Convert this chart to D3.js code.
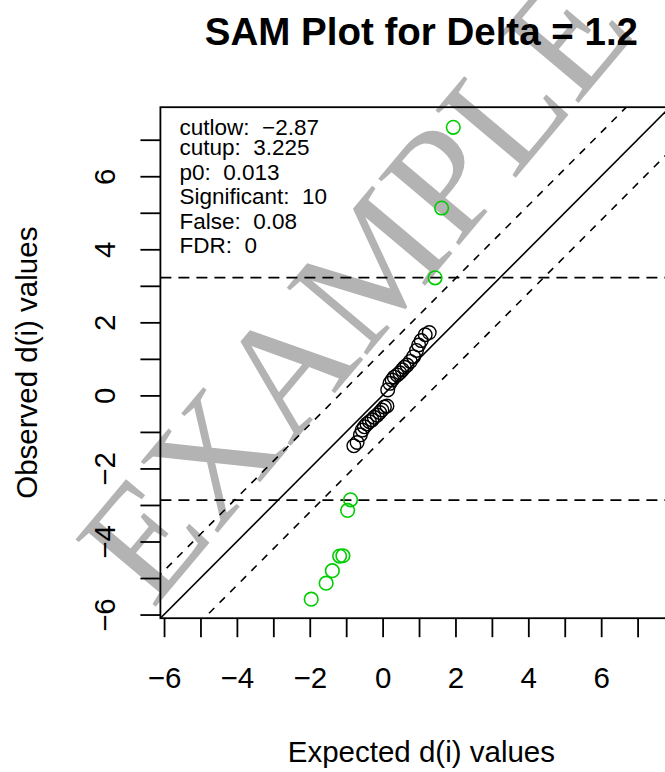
<!DOCTYPE html>
<html>
<head>
<meta charset="utf-8">
<script src="https://cdn.jsdelivr.net/npm/d3@7"></script>
<style>
  html, body { margin: 0; padding: 0; background: #fff; }
  svg { display: block; }
  text { font-family: "Liberation Sans", Arial, Helvetica, sans-serif; }
</style>
</head>
<body>
<svg id="chart" width="665" height="772"></svg>
<script>
// ---------------- data ----------------
const title = "SAM Plot for Delta = 1.2";
const xLabel = "Expected d(i) values";
const yLabel = "Observed d(i) values";
const delta = 1.2;
const cutlow = -2.87;
const cutup = 3.225;

// non-significant genes (black)
const nsExpected = [-0.79, -0.70, -0.61, -0.56, -0.50, -0.43, -0.36, -0.29, -0.23, -0.15, -0.08, -0.02, 0.05, 0.12,
                    0.14, 0.20, 0.26, 0.32, 0.40, 0.47, 0.54, 0.60, 0.67, 0.76, 0.85, 0.93, 0.99, 1.06, 1.17, 1.28];
const nsObserved = [-1.38, -1.29, -1.08, -0.95, -0.86, -0.78, -0.72, -0.67, -0.60, -0.54, -0.47, -0.40, -0.32, -0.29,
                    0.15, 0.33, 0.42, 0.50, 0.56, 0.62, 0.70, 0.77, 0.83, 0.93, 1.06, 1.23, 1.38, 1.50, 1.66, 1.72];
// significant genes (green)
const sigExpected = [1.94, 1.62, 1.44, -0.88, -0.96, -1.18, -1.09, -1.38, -1.55, -1.96];
const sigObserved = [7.34, 5.13, 3.22, -2.86, -3.15, -4.40, -4.39, -4.80, -5.14, -5.58];

const xTicks = [-6, -5, -4, -3, -2, -1, 0, 1, 2, 3, 4, 5, 6, 7, 8];
const yTicks = [-6, -5, -4, -3, -2, -1, 0, 1, 2, 3, 4, 5, 6, 7];
const xLabelled = [-6, -4, -2, 0, 2, 4, 6];
const yLabelled = [-6, -4, -2, 0, 2, 4, 6];

const statNames = ["cutlow", "cutup", "p0", "Significant", "False", "FDR"];
const statValues = ["\u22122.87", "3.225", "0.013", "10", "0.08", "0"];

const xDomain = [-6.1, 8.23];
const yDomain = [-6.1, 7.89];

// ---------------- layout ----------------
const plot = { left: 160.4, right: 682.4, top: 107.2, bottom: 618.2 };
const svg = d3.select("#chart");

const x = d3.scaleLinear().domain(xDomain).range([plot.left, plot.right]);
const y = d3.scaleLinear().domain(yDomain).range([plot.bottom, plot.top]);

const fmt = d => (d < 0 ? "\u2212" + Math.abs(d) : String(d));

// watermark (behind everything)
svg.append("text")
  .attr("transform", "translate(355,287) rotate(-50)")
  .attr("text-anchor", "middle")
  .attr("dy", "0.33em")
  .style("font-family", "'Liberation Serif', 'DejaVu Serif', serif")
  .style("font-size", "160px")
  .attr("fill", "#b3b3b3")
  .text("EXAMPLE");

// clip
svg.append("defs").append("clipPath").attr("id", "clip")
  .append("rect")
  .attr("x", plot.left).attr("y", plot.top)
  .attr("width", plot.right - plot.left).attr("height", plot.bottom - plot.top);

const g = svg.append("g").attr("clip-path", "url(#clip)");

// diagonal lines
const lines = [
  { b: 0, dash: null },
  { b: delta, dash: "7.5,7.5" },
  { b: -delta, dash: "7.5,7.5" }
];
lines.forEach(l => {
  g.append("line")
    .attr("x1", x(-10)).attr("y1", y(-10 + l.b))
    .attr("x2", x(10)).attr("y2", y(10 + l.b))
    .attr("stroke", "#000").attr("stroke-width", 1.6)
    .attr("stroke-dasharray", l.dash);
});
// horizontal cut lines
[cutlow, cutup].forEach(c => {
  g.append("line")
    .attr("x1", plot.left).attr("x2", plot.right)
    .attr("y1", y(c)).attr("y2", y(c))
    .attr("stroke", "#000").attr("stroke-width", 1.8)
    .attr("stroke-dasharray", "11,7");
});

// points
svg.append("g").selectAll("circle.ns")
  .data(nsExpected.map((e, i) => [e, nsObserved[i]]))
  .join("circle")
  .attr("cx", d => x(d[0])).attr("cy", d => y(d[1])).attr("r", 6.8)
  .attr("fill", "none").attr("stroke", "#000").attr("stroke-width", 1.4);

svg.append("g").selectAll("circle.sig")
  .data(sigExpected.map((e, i) => [e, sigObserved[i]]))
  .join("circle")
  .attr("cx", d => x(d[0])).attr("cy", d => y(d[1])).attr("r", 6.8)
  .attr("fill", "none").attr("stroke", "#00CD00").attr("stroke-width", 1.6);

// box
svg.append("rect")
  .attr("x", plot.left).attr("y", plot.top)
  .attr("width", plot.right - plot.left).attr("height", plot.bottom - plot.top)
  .attr("fill", "none").attr("stroke", "#000").attr("stroke-width", 1.8);

// axes
const xAxis = d3.axisBottom(x).tickValues(xTicks).tickSize(19).tickPadding(30)
  .tickFormat(d => xLabelled.includes(d) ? fmt(d) : "");
const gx = svg.append("g").attr("transform", `translate(0,${plot.bottom})`).call(xAxis);
gx.select(".domain").remove();
gx.selectAll(".tick line").attr("stroke-width", 1.8);
gx.selectAll(".tick text").style("font-size", "29.5px").attr("fill", "#000");

const yAxis = d3.axisLeft(y).tickValues(yTicks).tickSize(20)
  .tickFormat(d => yLabelled.includes(d) ? fmt(d) : "");
const gy = svg.append("g").attr("transform", `translate(${plot.left},0)`).call(yAxis);
gy.select(".domain").remove();
gy.selectAll(".tick line").attr("stroke-width", 1.8);
gy.selectAll(".tick text")
  .attr("x", null).attr("dy", null)
  .attr("text-anchor", "middle")
  .attr("transform", "translate(-45,0) rotate(-90)")
  .style("font-size", "29.5px").attr("fill", "#000");

// title & labels
svg.append("text")
  .attr("x", (plot.left + plot.right) / 2).attr("y", 45)
  .attr("text-anchor", "middle")
  .style("font-size", "38.5px").style("font-weight", "bold")
  .text(title);

svg.append("text")
  .attr("x", (plot.left + plot.right) / 2).attr("y", 762)
  .attr("text-anchor", "middle")
  .style("font-size", "29.5px")
  .text(xLabel);

svg.append("text")
  .attr("transform", `translate(37,${(plot.top + plot.bottom) / 2}) rotate(-90)`)
  .attr("text-anchor", "middle")
  .style("font-size", "29.5px")
  .text(yLabel);

// stats legend
const statY = [134.5, 155, 179.5, 203.5, 228.5, 253];
svg.append("g").selectAll("text")
  .data(statNames.map((n, i) => n + ":  " + statValues[i]))
  .join("text")
  .attr("x", 179.5)
  .attr("y", (d, i) => statY[i])
  .attr("xml:space", "preserve")
  .style("white-space", "pre")
  .style("font-size", "22.5px")
  .text(d => d);
</script>
</body>
</html>
